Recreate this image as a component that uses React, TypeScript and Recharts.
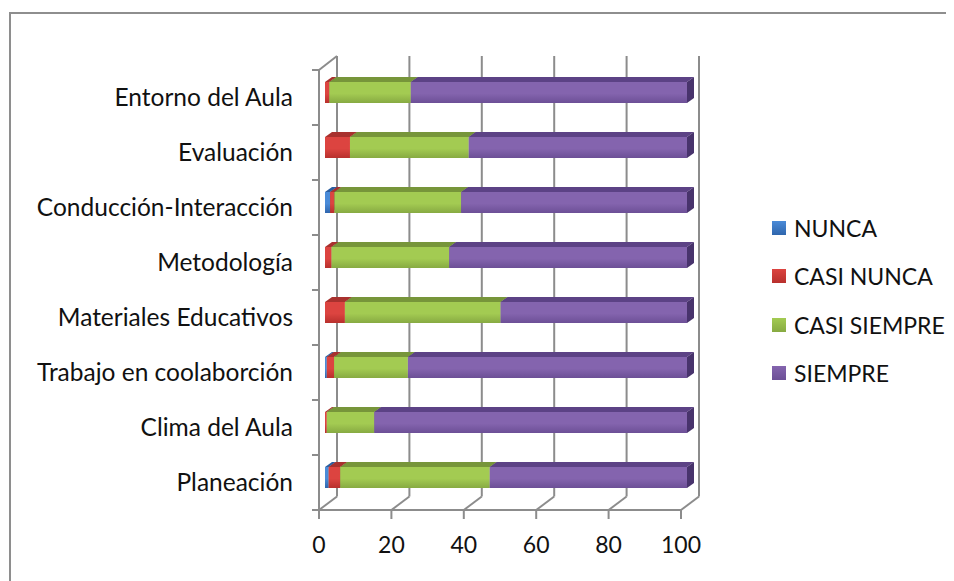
import React from "react";
import { Bar, BarChart, CartesianGrid, XAxis, YAxis } from "recharts";

const categories = [
  "Entorno del Aula",
  "Evaluación",
  "Conducción-Interacción",
  "Metodología",
  "Materiales Educativos",
  "Trabajo en coolaborción",
  "Clima del Aula",
  "Planeación",
];
const nunca = [0, 0, 1.4, 0, 0, 0.5, 0, 1.0];
const casiNunca = [1.2, 6.9, 1.2, 1.8, 5.5, 2.0, 0.5, 3.2];
const casiSiempre = [22.5, 32.8, 35.0, 32.5, 43.0, 20.4, 13.1, 41.3];
const siempre = [76.3, 60.3, 62.4, 65.7, 51.5, 77.1, 86.4, 54.5];
const xTicks = [0, 20, 40, 60, 80, 100];

const series = [
  { key: "nunca", name: "NUNCA", light: "#4a8bd8", dark: "#2f66ad", top: "#2b5e9f", side: "#234e86" },
  { key: "casiNunca", name: "CASI NUNCA", light: "#dc4440", dark: "#b8302d", top: "#a8312e", side: "#8c2826" },
  { key: "casiSiempre", name: "CASI SIEMPRE", light: "#a3cb52", dark: "#87aa42", top: "#77953a", side: "#627b30" },
  { key: "siempre", name: "SIEMPRE", light: "#8464ae", dark: "#6c4f96", top: "#5c4285", side: "#48336c" },
];

const data = categories.map((name, i) => ({
  name,
  nunca: nunca[i],
  casiNunca: casiNunca[i],
  casiSiempre: casiSiempre[i],
  siempre: siempre[i],
}));

const FONT = "Lato, 'Liberation Sans', sans-serif";
const GRID = "#8c8c8c";
const W = 938;
const H = 573;
const Y_AXIS_W = 311;
const TOP = 62;
const X_AXIS_H = 71;
const BAND = (H - TOP - X_AXIS_H) / categories.length;
// 3d look: back wall offset from the front plane
const DX = 18;
const DY = 13.5;

function bar3d(s: (typeof series)[number]) {
  return (props: any) => {
    const { x, y, width, height } = props;
    if (!width || width < 0.3) return <g />;
    const fx = x + 6;
    const fy = y - 5;
    const dx = 7;
    const dy = 5;
    return (
      <g>
        <polygon
          points={`${fx},${fy} ${fx + width},${fy} ${fx + width + dx},${fy - dy} ${fx + dx},${fy - dy}`}
          fill={s.top}
        />
        <polygon
          points={`${fx + width},${fy} ${fx + width + dx},${fy - dy} ${fx + width + dx},${fy + height - dy} ${fx + width},${fy + height}`}
          fill={s.side}
        />
        <rect x={fx} y={fy} width={width} height={height} fill={`url(#g-${s.key})`} />
      </g>
    );
  };
}

const YTick = (props: any) => {
  const { x, y, payload, index } = props;
  const axisX = x + 26;
  const half = BAND / 2;
  return (
    <g>
      <line x1={axisX - 7} x2={axisX} y1={y - half} y2={y - half} stroke={GRID} strokeWidth={2} />
      {index === categories.length - 1 && (
        <line x1={axisX - 7} x2={axisX} y1={y + half} y2={y + half} stroke={GRID} strokeWidth={2} />
      )}
      <text x={x} y={y} dy="0.36em" textAnchor="end" fill="#111" fontSize={24.5} fontFamily={FONT}>
        {payload.value}
      </text>
    </g>
  );
};

const XTick = (props: any) => {
  const { x, y, payload } = props;
  return (
    <text x={x} y={y} dy={32} textAnchor="middle" fill="#111" fontSize={23} fontFamily={FONT}>
      {payload.value}
    </text>
  );
};

const gridLine = (p: any) => (
  <g key={`v-${p.index}`}>
    <line x1={p.x1 + DX} x2={p.x2 + DX} y1={p.y1 - DY - 0.5} y2={p.y2 - DY} stroke={GRID} strokeWidth={2} />
    <line x1={p.x1} x2={p.x1 + DX} y1={p.y2} y2={p.y2 - DY} stroke={GRID} strokeWidth={2} />
    {p.index === 0 && (
      <line x1={p.x1} x2={p.x1 + DX} y1={p.y1} y2={p.y1 - DY - 0.5} stroke={GRID} strokeWidth={2} />
    )}
  </g>
);

export default function App() {
  return (
    <div style={{ position: "relative", width: 946, height: H, overflow: "hidden" }}>
      <style>{"body{overflow:hidden}"}</style>
      <div
        style={{
          position: "absolute",
          left: 1,
          top: 4,
          width: 939,
          height: 640,
          border: "2px solid #8e8e8e",
          boxSizing: "border-box",
        }}
      />
      <div style={{ position: "absolute", left: 0, top: 0 }}>
        <BarChart
          width={W}
          height={H}
          data={data}
          layout="vertical"
          barSize={21}
          margin={{ top: TOP, right: W - Y_AXIS_W - 362, bottom: 0, left: 0 }}
        >
          <defs>
            {series.map((s) => (
              <linearGradient key={s.key} id={`g-${s.key}`} x1="0" y1="0" x2="0" y2="1">
                <stop offset="0%" stopColor={s.light} />
                <stop offset="55%" stopColor={s.light} />
                <stop offset="100%" stopColor={s.dark} />
              </linearGradient>
            ))}
          </defs>
          <CartesianGrid horizontal={false} vertical={gridLine} />
          <XAxis
            type="number"
            domain={[0, 100]}
            ticks={xTicks}
            height={X_AXIS_H}
            tickSize={9}
            tickMargin={2}
            axisLine={{ stroke: GRID, strokeWidth: 2 }}
            tickLine={{ stroke: GRID, strokeWidth: 2 }}
            tick={<XTick />}
          />
          <YAxis
            type="category"
            dataKey="name"
            width={Y_AXIS_W}
            tickSize={7}
            tickMargin={19}
            tickLine={false}
            axisLine={{ stroke: GRID, strokeWidth: 2 }}
            tick={<YTick />}
            interval={0}
          />
          {series.map((s) => (
            <Bar key={s.key} dataKey={s.key} name={s.name} stackId="a" isAnimationActive={false} shape={bar3d(s)} />
          ))}
        </BarChart>
      </div>
      <div style={{ position: "absolute", left: 764, top: 0 }}>
        {series.map((s, i) => (
          <div
            key={s.key}
            style={{
              position: "absolute",
              top: 207 + i * 48.3,
              left: 0,
              display: "flex",
              alignItems: "center",
              whiteSpace: "nowrap",
              fontFamily: FONT,
              fontSize: 23,
              color: "#111",
              height: 26,
            }}
          >
            <span
              style={{
                display: "inline-block",
                width: 14,
                height: 14,
                marginRight: 8,
                background: `linear-gradient(${s.light}, ${s.dark})`,
              }}
            />
            {s.name}
          </div>
        ))}
      </div>
    </div>
  );
}
